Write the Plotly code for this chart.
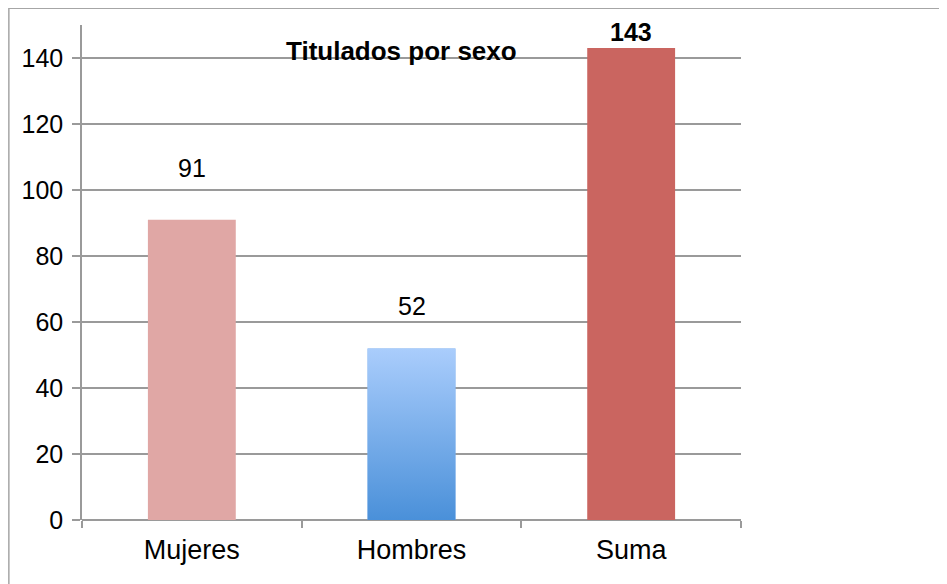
import plotly.graph_objects as go

categories = ["Mujeres", "Hombres", "Suma"]
values = [91, 52, 143]
label_bold = [False, False, True]

bar_colors = ["#E0A7A5", "#7DAEEA", "#CA6560"]
hombres_gradient = [[0, "#4A90D9"], [1, "#AACDFC"]]
label_shift = [52, 42, 16]
bar_width = 0.4

family = "Liberation Sans, Arial, sans-serif"
num_font = dict(family=family, size=25, color="#000000")
text_font = dict(family=family, size=27, color="#000000")
title_font = dict(family=family, size=26, color="#000000")
grid_color = "#9a9a9a"

positions = list(range(len(categories)))

fig = go.Figure()

fig.add_trace(
    go.Bar(
        x=positions,
        y=values,
        width=bar_width,
        marker=dict(color=bar_colors, line=dict(width=0)),
        hoverinfo="skip",
        showlegend=False,
    )
)

# gradient fill for the "Hombres" bar (bars have no gradient option)
i = categories.index("Hombres")
x0, x1 = positions[i] - bar_width / 2, positions[i] + bar_width / 2
fig.add_trace(
    go.Scatter(
        x=[x0, x1, x1, x0, x0],
        y=[0, 0, values[i], values[i], 0],
        mode="lines",
        line=dict(width=0),
        fill="toself",
        fillgradient=dict(type="vertical", colorscale=hombres_gradient),
        hoverinfo="skip",
        showlegend=False,
    )
)

for pos, val, bold, shift in zip(positions, values, label_bold, label_shift):
    fig.add_annotation(
        x=pos,
        y=val,
        yshift=shift,
        text=f"<b>{val}</b>" if bold else str(val),
        showarrow=False,
        font=num_font,
        yanchor="middle",
    )

fig.add_annotation(
    x=1,
    y=140,
    text="<b>Titulados por sexo</b>",
    showarrow=False,
    font=title_font,
    yanchor="bottom",
    yshift=-10,
    xshift=-10,
)

# outer chart frame (cut off at right and bottom like the reference)
fig.add_shape(
    type="rect",
    xref="paper",
    yref="paper",
    x0=-0.111,
    x1=1.6,
    y0=-0.3,
    y1=1.034,
    line=dict(color="#a6a6a6", width=1.5),
    layer="below",
)

fig.update_xaxes(
    range=[-0.5, 2.5],
    tickvals=positions,
    ticktext=categories,
    ticks="",
    showgrid=False,
    zeroline=False,
    showline=False,
    tickfont=text_font,
    minor=dict(
        tickvals=[-0.5, 0.5, 1.5, 2.5],
        ticks="outside",
        ticklen=7,
        tickwidth=1.5,
        tickcolor=grid_color,
        showgrid=False,
    ),
    ticklabelstandoff=11,
)
fig.update_yaxes(
    range=[0, 150],
    dtick=20,
    ticks="outside",
    ticklen=8,
    tickwidth=1.5,
    tickcolor=grid_color,
    showgrid=True,
    gridcolor=grid_color,
    gridwidth=1.5,
    zeroline=True,
    zerolinecolor=grid_color,
    zerolinewidth=1.5,
    showline=True,
    linecolor=grid_color,
    linewidth=1.5,
    tickfont=num_font,
    ticklabelstandoff=4,
)

fig.update_layout(
    width=947,
    height=584,
    margin=dict(l=74, r=214, t=17, b=72),
    paper_bgcolor="white",
    plot_bgcolor="white",
    font=num_font,
)

fig.write_html("out.html")
